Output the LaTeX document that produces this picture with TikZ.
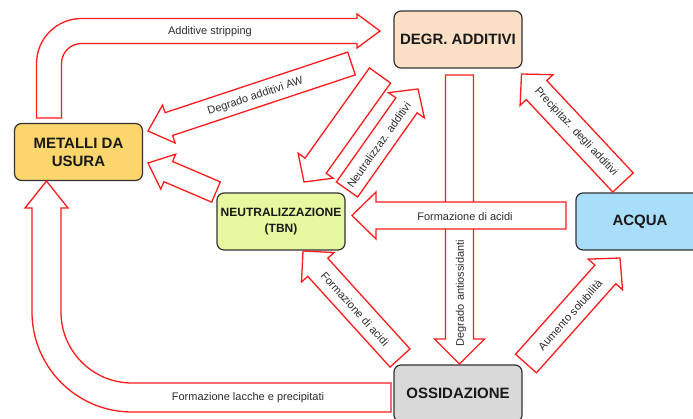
\documentclass[tikz,border=0pt]{standalone}
\usepackage{fontspec}
\setmainfont{Liberation Sans}
\usetikzlibrary{calc}

\definecolor{arrowred}{RGB}{255,28,28}
\definecolor{boxline}{RGB}{51,51,51}
\definecolor{degrfill}{RGB}{252,224,197}
\definecolor{metalfill}{RGB}{250,214,108}
\definecolor{neutrfill}{RGB}{230,249,160}
\definecolor{acquafill}{RGB}{169,222,250}
\definecolor{ossidfill}{RGB}{217,217,217}
\definecolor{labeltext}{RGB}{45,45,45}

% straight block arrow: #1 tail, #2 tip, #3 half shaft width,
% #4 half head width, #5 head length
\newcommand\redblockarrow[5]{%
  \coordinate (hb) at ($(#2)!#5!(#1)$);
  \draw[blockarrow] ($(#1)!#3!90:(#2)$) -- ($(hb)!#3!90:(#2)$)
    -- ($(hb)!#4!90:(#2)$) -- (#2) -- ($(hb)!#4!-90:(#2)$)
    -- ($(hb)!#3!-90:(#2)$) -- ($(#1)!#3!-90:(#2)$) -- cycle;}

\begin{document}
\begin{tikzpicture}[x=1pt, y=-1pt,
  blockarrow/.style={draw=arrowred, fill=white, line width=1.3pt},
  box/.style={draw=boxline, line width=1.2pt, rounded corners=7pt,
    minimum width=128pt, minimum height=57pt, inner sep=0pt,
    align=center, text=black!90,
    font=\fontsize{15}{18}\selectfont\bfseries},
  lbl/.style={inner sep=0pt, text=labeltext,
    font=\fontsize{11}{13}\selectfont}]

\useasboundingbox (0,0) rectangle (693,419);
\fill[white] (0,0) rectangle (693,419);
\clip (0,0) rectangle (693,419);

% process boxes
\node[box, fill=degrfill]  (degr)  at (458,39.5)  {DEGR. ADDITIVI};
\node[box, fill=metalfill] (metal) at (78.5,152)  {METALLI DA\\USURA};
\node[box, fill=neutrfill, font=\fontsize{12}{16}\selectfont\bfseries]
                           (neutr) at (281,221.5) {NEUTRALIZZAZIONE\\(TBN)};
\node[box, fill=acquafill] (acqua) at (640,221.5) {ACQUA};
\node[box, fill=ossidfill] (ossid) at (458,393.5) {OSSIDAZIONE};

% end points of the straight block arrows
\coordinate (aw-t)   at (351.5,63.5);  \coordinate (aw-h)   at (148,131);
\coordinate (nm-t)   at (216,192);     \coordinate (nm-h)   at (148,163);
\coordinate (dn-t)   at (380,75.5);    \coordinate (dn-h)   at (304,182);
\coordinate (nd-t)   at (347,189.5);   \coordinate (nd-h)   at (418,89);
\coordinate (anti-t) at (459.5,75);    \coordinate (anti-h) at (459.5,364);
\coordinate (acid-t) at (566,215.5);   \coordinate (acid-h) at (352,215.5);
\coordinate (prec-t) at (623,182.5);   \coordinate (prec-h) at (521.5,74);
\coordinate (oacd-t) at (400,358);     \coordinate (oacd-h) at (303,251);
\coordinate (solu-t) at (526,363.5);   \coordinate (solu-h) at (620,258);

% additive stripping: metalli -> degr. additivi
\draw[blockarrow] (36.5,118) -- (36.5,63.5)
  arc[start angle=180, end angle=270, radius=45] -- (357,18.5)
  -- (357,14) -- (380,31) -- (357,48) -- (357,43.5) -- (81.5,43.5)
  arc[start angle=270, end angle=180, radius=20] -- (61.5,118) -- cycle;

% lacche e precipitati: ossidazione -> metalli
\draw[blockarrow] (391,412) -- (132,412)
  arc[start angle=90, end angle=180, radius=100] -- (32,208)
  -- (25,208) -- (46.5,181) -- (68,208) -- (61,208) -- (61,312)
  arc[start angle=180, end angle=90, radius=71] -- (391,383) -- cycle;

\redblockarrow{aw-t}{aw-h}{12pt}{20pt}{22pt}
\redblockarrow{nm-t}{nm-h}{11pt}{19pt}{22pt}
\redblockarrow{dn-t}{dn-h}{13pt}{21.5pt}{20pt}
\redblockarrow{nd-t}{nd-h}{13pt}{22pt}{20pt}
\redblockarrow{anti-t}{anti-h}{14pt}{25pt}{25pt}
\redblockarrow{acid-t}{acid-h}{13.5pt}{23.5pt}{24pt}
\redblockarrow{prec-t}{prec-h}{14pt}{22.5pt}{22pt}
\redblockarrow{oacd-t}{oacd-h}{13.5pt}{22pt}{22pt}
\redblockarrow{solu-t}{solu-h}{14pt}{23pt}{22pt}

% arrow labels
\node[lbl] (l-strip) at (210,32) {Additive stripping};
\node[lbl, rotate=18.3] (l-aw) at (255.5,96.5) {Degrado additivi AW};
\node[lbl, rotate=54.8] (l-neut) at (379,145) {Neutralizzaz. additivi};
\node[lbl, rotate=90] (l-anti) at (461,293) {Degrado antiossidanti};
\node[lbl] (l-acid) at (465,216.5) {Formazione di acidi};
\node[lbl, rotate=-46.9] (l-prec) at (576,132) {Precipitaz. degli additivi};
\node[lbl, rotate=-47.8] (l-oacd) at (355,309) {Formazione di acidi};
\node[lbl, rotate=48.3] (l-solu) at (570,315) {Aumento solubilità};
\node[lbl] (l-lacc) at (248,398) {Formazione lacche e precipitati};

\end{tikzpicture}
\end{document}
